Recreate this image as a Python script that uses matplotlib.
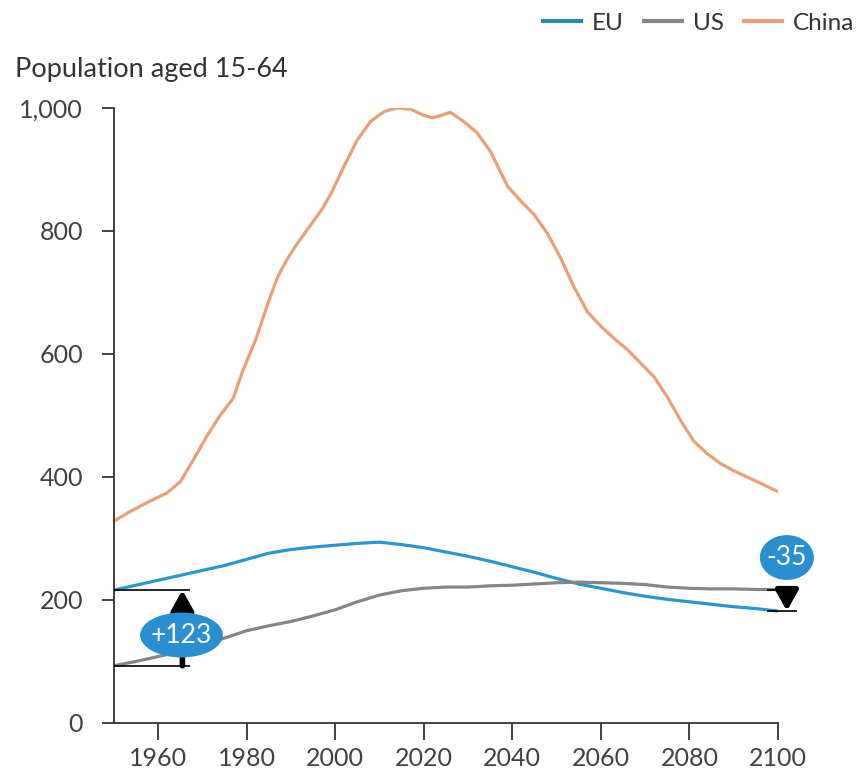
import matplotlib.pyplot as plt
from matplotlib.patches import Ellipse
from matplotlib.lines import Line2D
from matplotlib.ticker import FuncFormatter

plt.rcParams["font.family"] = ["Lato", "DejaVu Sans"]

# working-age population (millions)
china_years = [1950, 1954, 1958, 1962, 1965, 1968, 1971, 1974, 1977, 1979, 1982, 1985,
               1987, 1989, 1991, 1994, 1997, 1999, 2002, 2005, 2008, 2011, 2014, 2017,
               2020, 2022, 2024, 2026, 2029, 2032, 2035, 2039, 2042, 2045, 2048, 2051,
               2054, 2057, 2060, 2063, 2066, 2069, 2072, 2075, 2078, 2081, 2084, 2087,
               2090, 2093, 2096, 2100]
china = [328, 345, 360, 374, 392, 428, 466, 500, 528, 570, 622, 686,
         725, 752, 775, 805, 835, 860, 905, 948, 978, 994, 1000, 998,
         988, 984, 988, 993, 978, 960, 930, 872, 848, 826, 795, 755,
         708, 668, 645, 625, 607, 585, 563, 530, 492, 458, 438, 422,
         410, 400, 390, 376]

years = [1950, 1955, 1960, 1965, 1970, 1975, 1980, 1985, 1990, 1995, 2000, 2005,
         2010, 2015, 2020, 2025, 2030, 2035, 2040, 2045, 2050, 2055, 2060, 2065,
         2070, 2075, 2080, 2085, 2090, 2095, 2100]
eu = [216, 224, 232, 240, 248, 256, 266, 276, 282, 286, 289, 292,
      294, 290, 285, 278, 271, 263, 254, 245, 235, 226, 219, 212,
      206, 201, 197, 193, 189, 186, 182]
us = [93, 100, 108, 116, 127, 138, 150, 158, 165, 174, 184, 197,
      208, 215, 219, 221, 221, 223, 224, 226, 228, 229, 228, 227,
      225, 221, 219, 218, 218, 217, 217]

c_eu = "#2b95cf"
c_us = "#858585"
c_china = "#e9a077"
c_badge = "#2a8fd0"

fig = plt.figure(figsize=(8.59, 7.71), dpi=100)
ax = fig.add_axes([0.1324, 0.0623, 0.7733, 0.7977])

ax.plot(years, eu, color=c_eu, lw=2.3, solid_capstyle="butt")
ax.plot(years, us, color=c_us, lw=2.3, solid_capstyle="butt")
ax.plot(china_years, china, color=c_china, lw=2.3, solid_capstyle="butt")

ax.set_xlim(1950, 2100)
ax.set_ylim(0, 1000)
ax.set_xticks(range(1960, 2101, 20))
ax.set_yticks(range(0, 1001, 200))
ax.yaxis.set_major_formatter(FuncFormatter(lambda v, p: f"{int(v):,}"))
ax.tick_params(axis="y", direction="out", length=9, width=1.3, pad=13,
               labelsize=18, colors="#333333", labelcolor="#404040")
ax.tick_params(axis="x", direction="out", length=12, width=1.3, pad=5,
               labelsize=18, colors="#333333", labelcolor="#404040")
for s in ["top", "right"]:
    ax.spines[s].set_visible(False)
for s in ["left", "bottom"]:
    ax.spines[s].set_color("#333333")
    ax.spines[s].set_linewidth(1.3)

arrow_style = dict(arrowstyle="-|>,head_width=0.42,head_length=0.75",
                   mutation_scale=16, lw=4, color="black", shrinkA=0, shrinkB=0)

# gap at the start: EU vs US
d0 = eu[0] - us[0]
ax.hlines([eu[0], us[0]], 1950, 1967.3, color="black", lw=1.2, zorder=3)
ax.annotate("", xy=(1965.5, eu[0]), xytext=(1965.5, us[0]),
            arrowprops=arrow_style, zorder=3)
ax.add_patch(Ellipse((1965.3, 143), 18.7, 73, fc=c_badge, ec="none", zorder=4))
ax.text(1965.3, 143, f"{d0:+d}", color="white", fontsize=19,
        ha="center", va="center", zorder=5)

# gap at the end
d1 = eu[-1] - us[-1]
ax.hlines([eu[-1], us[-1]], 2097.5, 2104.3, color="black", lw=1.2, zorder=3,
          clip_on=False)
ax.annotate("", xy=(2102, eu[-1]), xytext=(2102, us[-1]),
            arrowprops=arrow_style, annotation_clip=False, zorder=3)
ax.add_patch(Ellipse((2102, 269), 12.2, 73, fc=c_badge, ec="none", zorder=4,
                     clip_on=False))
ax.text(2102, 269, f"{d1:d}", color="white", fontsize=19,
        ha="center", va="center", zorder=5)

fig.text(0.018, 0.9, "Population aged 15-64", fontsize=19.5, color="#333333",
         ha="left", va="baseline")

handles = [Line2D([], [], color=c, lw=3) for c in ("#2e86a8", c_us, c_china)]
fig.legend(handles, ["EU", "US", "China"], loc="upper right",
           bbox_to_anchor=(1.02, 1.012), ncol=3, frameon=False, fontsize=17.5,
           handlelength=1.55, handletextpad=0.45, columnspacing=0.85,
           labelcolor="#333333")

fig.savefig("out.png", dpi=100)
